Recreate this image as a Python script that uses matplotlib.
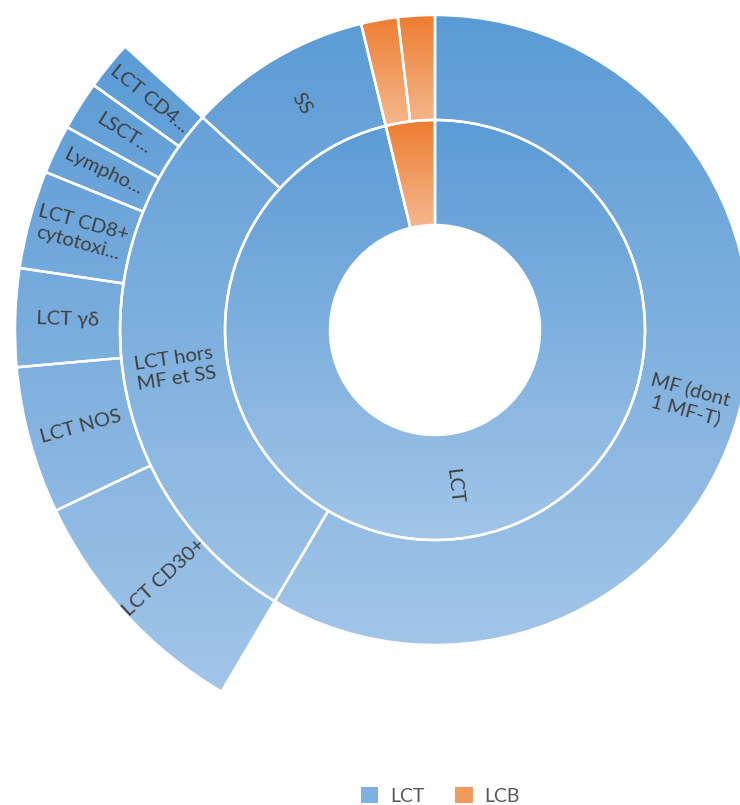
import numpy as np
import matplotlib.pyplot as plt
from matplotlib.patches import Wedge, Patch
from matplotlib.colors import LinearSegmentedColormap
from matplotlib.transforms import Bbox

# Sunburst data (patients)
groups = ['LCT', 'LCB']
group_vals = [51, 2]

sub_labels = ['MF (dont\n1 MF-T)', 'LCT hors\nMF et SS', 'SS', '', '']
sub_parent = [0, 0, 0, 1, 1]
sub_vals = [31, 15, 5, 1, 1]

# children of "LCT hors MF et SS"
leaf_labels = ['LCT CD30+', 'LCT NOS', 'LCT γδ', 'LCT CD8+\ncytotoxi...',
               'Lympho...', 'LSCT...', 'LCT CD4...']
leaf_vals = [5, 3, 2, 2, 1, 1, 1]
leaf_parent = 1

plt.rcParams['font.family'] = ['Lato', 'DejaVu Sans']

blue_cmap = LinearSegmentedColormap.from_list('b', ['#5B9BD5', '#A2C5E8'])
orange_cmap = LinearSegmentedColormap.from_list('o', ['#ED7D31', '#F5B88E'])
cmaps = [blue_cmap, orange_cmap]

fig = plt.figure(figsize=(7.4, 8.05), dpi=100)
ax = fig.add_axes([0, 0, 1, 1])
ax.set_xlim(0, 740)
ax.set_ylim(0, 805)
ax.set_aspect('equal')
ax.axis('off')

cx, cy = 435, 475
r_hole, ring = 105, 105
total = sum(group_vals)
grad = np.linspace(1, 0, 256).reshape(-1, 1)

# collect segments first: (start, value, level, group, label)
segments = []
pos = 0
for i, v in enumerate(group_vals):
    segments.append((pos, v, 0, i, groups[i] if i == 0 else ''))
    pos += v
pos = 0
sub_start = []
for lab, p, v in zip(sub_labels, sub_parent, sub_vals):
    sub_start.append(pos)
    segments.append((pos, v, 1, p, lab))
    pos += v
pos = sub_start[leaf_parent]
for lab, v in zip(leaf_labels, leaf_vals):
    segments.append((pos, v, 2, sub_parent[leaf_parent], lab))
    pos += v

wedges = []
for start, val, level, g, label in segments:
    # angles measured clockwise from 12 o'clock
    a0 = start / total * 360
    a1 = (start + val) / total * 360
    r_in = r_hole + level * ring
    w = Wedge((cx, cy), r_in + ring, 90 - a1, 90 - a0, width=ring,
              facecolor='none', edgecolor='white', linewidth=1.8, zorder=3)
    ax.add_patch(w)
    wedges.append(w)
    if label:
        mid = (a0 + a1) / 2
        r_mid = r_in + ring / 2
        th = np.deg2rad(90 - mid)
        rot = (90 - mid + 180) % 360 - 180
        if rot > 90:
            rot -= 180
        elif rot <= -90:
            rot += 180
        ax.text(cx + r_mid * np.cos(th), cy + r_mid * np.sin(th), label,
                rotation=rot, rotation_mode='anchor', ha='center', va='center',
                fontsize=14.5, color='#404040', zorder=4, linespacing=1.25)

# gradient shared by all segments of one group on one ring
for w, (start, val, level, g, label) in zip(wedges, segments):
    boxes = [ww.get_path().get_extents() for ww, s in zip(wedges, segments)
             if s[2] == level and s[3] == g]
    ext = Bbox.union(boxes)
    im = ax.imshow(grad, extent=[ext.x0, ext.x1, ext.y0, ext.y1], origin='lower',
                   cmap=cmaps[g], vmin=0, vmax=1, aspect='auto', zorder=1,
                   interpolation='bilinear')
    im.set_clip_path(w)

handles = [Patch(facecolor='#7EB1E0', label='LCT'),
           Patch(facecolor='#F19A5E', label='LCB')]
fig.legend(handles=handles, loc='center', bbox_to_anchor=(0.595, 0.011), ncol=2,
           frameon=False, fontsize=14, labelcolor='#595959', handlelength=0.9,
           handleheight=0.9, handletextpad=0.6, columnspacing=1.6)

fig.savefig('out.png', dpi=100)
